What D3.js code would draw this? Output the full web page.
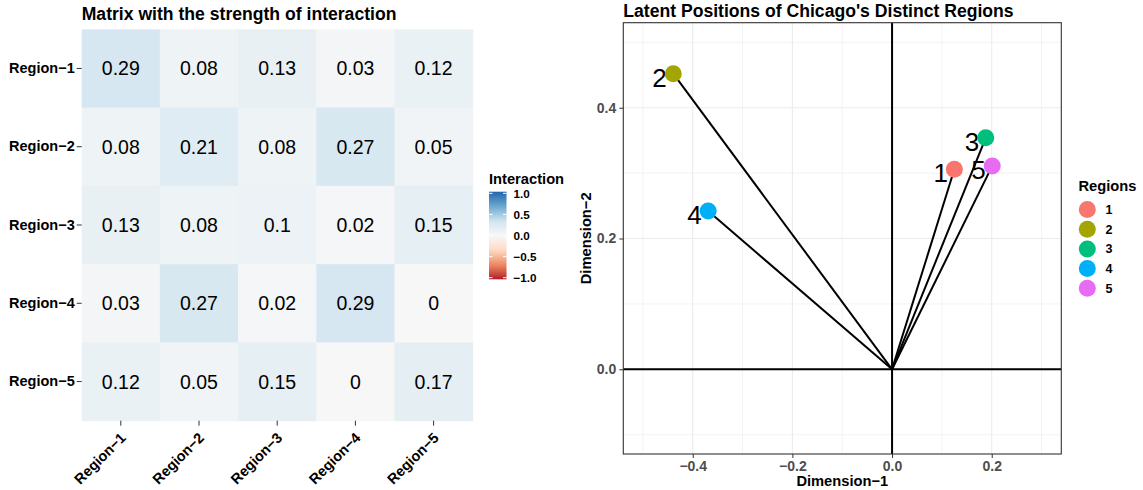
<!DOCTYPE html>
<html>
<head>
<meta charset="utf-8">
<script src="https://cdn.jsdelivr.net/npm/d3@7"></script>
<style>
  body { margin: 0; background: #fff; }
  svg { display: block; font-family: "Liberation Sans", Arial, sans-serif; }
</style>
</head>
<body>
<svg id="chart" width="1143" height="490"></svg>
<script>
// heatmap data
var regions = ["Region\u22121", "Region\u22122", "Region\u22123", "Region\u22124", "Region\u22125"];
var row1 = [0.29, 0.08, 0.13, 0.03, 0.12];
var row2 = [0.08, 0.21, 0.08, 0.27, 0.05];
var row3 = [0.13, 0.08, 0.1, 0.02, 0.15];
var row4 = [0.03, 0.27, 0.02, 0.29, 0];
var row5 = [0.12, 0.05, 0.15, 0, 0.17];
var interaction = [row1, row2, row3, row4, row5];
var legendTicks = [-1, -0.5, 0, 0.5, 1];

// latent positions
var regionIds = ["1", "2", "3", "4", "5"];
var dim1 = [0.125, -0.439, 0.188, -0.369, 0.201];
var dim2 = [0.306, 0.452, 0.354, 0.242, 0.311];
var regionColors = ["#F8766D", "#A3A500", "#00BF7D", "#00B0F6", "#E76BF3"];
var xTicks = [-0.4, -0.2, 0, 0.2];
var yTicks = [0, 0.2, 0.4];
var xMinor = [-0.5, -0.3, -0.1, 0.1, 0.3];
var yMinor = [-0.1, 0.1, 0.3, 0.5];

var svg = d3.select("#chart");

// RdBu (7 class) like scale_fill_distiller
var rdbu = ["#b2182b", "#ef8a62", "#fddbc7", "#f7f7f7", "#d1e5f0", "#67a9cf", "#2166ac"];
var fill = d3.scaleLinear()
  .domain(d3.range(7).map(function(i) { return -1 + i / 3; }))
  .range(rdbu)
  .interpolate(d3.interpolateLab);

makeHeatmap();
makeLatent();

function makeHeatmap() {
  var left = 81.7, right = 472.7, top = 29.3, bottom = 420.7;

  var x = d3.scaleBand().domain(regions).range([left, right]);
  var y = d3.scaleBand().domain(regions).range([top, bottom]);

  svg.append("text")
    .attr("x", left).attr("y", 20)
    .attr("font-size", 17.6).attr("font-weight", "bold")
    .text("Matrix with the strength of interaction");

  var cells = [];
  interaction.forEach(function(row, i) {
    row.forEach(function(v, j) {
      cells.push({ r: regions[i], c: regions[j], v: v });
    });
  });

  var g = svg.append("g");
  g.selectAll("rect").data(cells).join("rect")
    .attr("x", function(d) { return x(d.c); })
    .attr("y", function(d) { return y(d.r); })
    .attr("width", x.bandwidth() + 0.5)
    .attr("height", y.bandwidth() + 0.5)
    .attr("fill", function(d) { return fill(d.v); });

  g.selectAll("text").data(cells).join("text")
    .attr("x", function(d) { return x(d.c) + x.bandwidth() / 2; })
    .attr("y", function(d) { return y(d.r) + y.bandwidth() / 2; })
    .attr("dy", "0.36em")
    .attr("text-anchor", "middle")
    .attr("font-size", 19.5)
    .attr("fill", "#000")
    .text(function(d) { return String(d.v); });

  // y axis
  var yAxis = svg.append("g")
    .attr("transform", "translate(" + left + ",0)")
    .call(d3.axisLeft(y).tickSize(5).tickPadding(2));
  yAxis.select(".domain").remove();
  yAxis.selectAll(".tick line").attr("stroke", "#333");
  yAxis.selectAll(".tick text")
    .attr("font-size", 14.5).attr("font-weight", "bold").attr("fill", "#000")
    .attr("font-family", "Liberation Sans, Arial, sans-serif");

  // x axis, rotated labels
  var xAxis = svg.append("g")
    .attr("transform", "translate(0," + bottom + ")")
    .call(d3.axisBottom(x).tickSize(5));
  xAxis.select(".domain").remove();
  xAxis.selectAll(".tick line").attr("stroke", "#333");
  xAxis.selectAll(".tick text")
    .attr("font-size", 14.5).attr("font-weight", "bold").attr("fill", "#000")
    .attr("font-family", "Liberation Sans, Arial, sans-serif")
    .attr("text-anchor", "end")
    .attr("y", 0).attr("dy", 0)
    .attr("transform", "translate(6,18) rotate(-45)");

  // colour bar legend
  var barX = 489, barW = 17.5;
  var ly = d3.scaleLinear().domain([-1, 1]).range([277.7, 193.3]);
  svg.append("text")
    .attr("x", 489).attr("y", 184)
    .attr("font-size", 14.7).attr("font-weight", "bold")
    .text("Interaction");

  var grad = svg.append("defs").append("linearGradient")
    .attr("id", "interGrad").attr("x1", 0).attr("y1", 1).attr("x2", 0).attr("y2", 0);
  d3.range(0, 1.0001, 0.05).forEach(function(t) {
    grad.append("stop").attr("offset", t).attr("stop-color", fill(-1 + 2 * t));
  });
  svg.append("rect")
    .attr("x", barX).attr("y", ly(1) - 1.6)
    .attr("width", barW).attr("height", ly(-1) - ly(1) + 3.2)
    .attr("fill", "url(#interGrad)");

  legendTicks.forEach(function(t) {
    svg.append("line")
      .attr("x1", barX).attr("x2", barX + 3.5)
      .attr("y1", ly(t)).attr("y2", ly(t))
      .attr("stroke", "#fff").attr("stroke-width", 1);
    svg.append("line")
      .attr("x1", barX + barW - 3.5).attr("x2", barX + barW)
      .attr("y1", ly(t)).attr("y2", ly(t))
      .attr("stroke", "#fff").attr("stroke-width", 1);
    svg.append("text")
      .attr("x", barX + barW + 7).attr("y", ly(t))
      .attr("dy", "0.36em")
      .attr("font-size", 11.7).attr("font-weight", "bold")
      .text(d3.format(".1f")(t));
  });
}

function makeLatent() {
  var left = 623.3, right = 1061.3, top = 22.7, bottom = 454;

  var x = d3.scaleLinear().domain([-0.5393, 0.3396]).range([left, right]);
  var y = d3.scaleLinear().domain([-0.1295, 0.530]).range([bottom, top]);

  svg.append("text")
    .attr("x", left).attr("y", 16.5)
    .attr("font-size", 17.6).attr("font-weight", "bold")
    .text("Latent Positions of Chicago's Distinct Regions");

  var g = svg.append("g");
  var grid = "#ebebeb";

  g.selectAll(".xminor").data(xMinor).join("line")
    .attr("x1", x).attr("x2", x).attr("y1", top).attr("y2", bottom)
    .attr("stroke", grid).attr("stroke-width", 0.6);
  g.selectAll(".yminor").data(yMinor).join("line")
    .attr("y1", y).attr("y2", y).attr("x1", left).attr("x2", right)
    .attr("stroke", grid).attr("stroke-width", 0.6);
  g.selectAll(".xmajor").data(xTicks).join("line")
    .attr("x1", x).attr("x2", x).attr("y1", top).attr("y2", bottom)
    .attr("stroke", grid).attr("stroke-width", 1.1);
  g.selectAll(".ymajor").data(yTicks).join("line")
    .attr("y1", y).attr("y2", y).attr("x1", left).attr("x2", right)
    .attr("stroke", grid).attr("stroke-width", 1.1);

  // reference lines through origin
  g.append("line")
    .attr("x1", x(0)).attr("x2", x(0)).attr("y1", top).attr("y2", bottom)
    .attr("stroke", "#000").attr("stroke-width", 2);
  g.append("line")
    .attr("x1", left).attr("x2", right).attr("y1", y(0)).attr("y2", y(0))
    .attr("stroke", "#000").attr("stroke-width", 2);

  var pts = regionIds.map(function(id, i) {
    return { id: id, x: dim1[i], y: dim2[i], color: regionColors[i] };
  });

  g.selectAll(".seg").data(pts).join("line")
    .attr("x1", x(0)).attr("y1", y(0))
    .attr("x2", function(d) { return x(d.x); })
    .attr("y2", function(d) { return y(d.y); })
    .attr("stroke", "#000").attr("stroke-width", 2);

  g.selectAll(".lab").data(pts).join("text")
    .attr("x", function(d) { return x(d.x) - 6.5; })
    .attr("y", function(d) { return y(d.y) + 13; })
    .attr("text-anchor", "end")
    .attr("font-size", 26)
    .text(function(d) { return d.id; });

  g.selectAll("circle").data(pts).join("circle")
    .attr("cx", function(d) { return x(d.x); })
    .attr("cy", function(d) { return y(d.y); })
    .attr("r", 8.5)
    .attr("fill", function(d) { return d.color; });

  // panel border
  svg.append("rect")
    .attr("x", left).attr("y", top)
    .attr("width", right - left).attr("height", bottom - top)
    .attr("fill", "none").attr("stroke", "#333").attr("stroke-width", 1.1);

  var xAxis = svg.append("g")
    .attr("transform", "translate(0," + bottom + ")")
    .call(d3.axisBottom(x).tickValues(xTicks).tickFormat(d3.format(".1f")).tickSize(4).tickPadding(3));
  xAxis.select(".domain").remove();
  xAxis.selectAll(".tick line").attr("stroke", "#333");
  xAxis.selectAll(".tick text")
    .attr("font-size", 14).attr("font-weight", "bold").attr("fill", "#4d4d4d")
    .attr("font-family", "Liberation Sans, Arial, sans-serif");

  var yAxis = svg.append("g")
    .attr("transform", "translate(" + left + ",0)")
    .call(d3.axisLeft(y).tickValues(yTicks).tickFormat(d3.format(".1f")).tickSize(4).tickPadding(3));
  yAxis.select(".domain").remove();
  yAxis.selectAll(".tick line").attr("stroke", "#333");
  yAxis.selectAll(".tick text")
    .attr("font-size", 14).attr("font-weight", "bold").attr("fill", "#4d4d4d")
    .attr("font-family", "Liberation Sans, Arial, sans-serif");

  svg.append("text")
    .attr("x", (left + right) / 2).attr("y", 486)
    .attr("text-anchor", "middle")
    .attr("font-size", 14.7).attr("font-weight", "bold")
    .text("Dimension\u22121");

  svg.append("text")
    .attr("transform", "translate(591," + (top + bottom) / 2 + ") rotate(-90)")
    .attr("text-anchor", "middle")
    .attr("font-size", 14.7).attr("font-weight", "bold")
    .text("Dimension\u22122");

  // legend
  svg.append("text")
    .attr("x", 1078.5).attr("y", 191)
    .attr("font-size", 14.7).attr("font-weight", "bold")
    .text("Regions");

  var leg = svg.append("g");
  leg.selectAll("circle").data(pts).join("circle")
    .attr("cx", 1087.3)
    .attr("cy", function(d, i) { return 209.5 + i * 19.7; })
    .attr("r", 8.5)
    .attr("fill", function(d) { return d.color; });
  leg.selectAll("text").data(pts).join("text")
    .attr("x", 1105.5)
    .attr("y", function(d, i) { return 209.5 + i * 19.7; })
    .attr("dy", "0.36em")
    .attr("font-size", 12.5).attr("font-weight", "bold")
    .text(function(d) { return d.id; });
}
</script>
</body>
</html>
